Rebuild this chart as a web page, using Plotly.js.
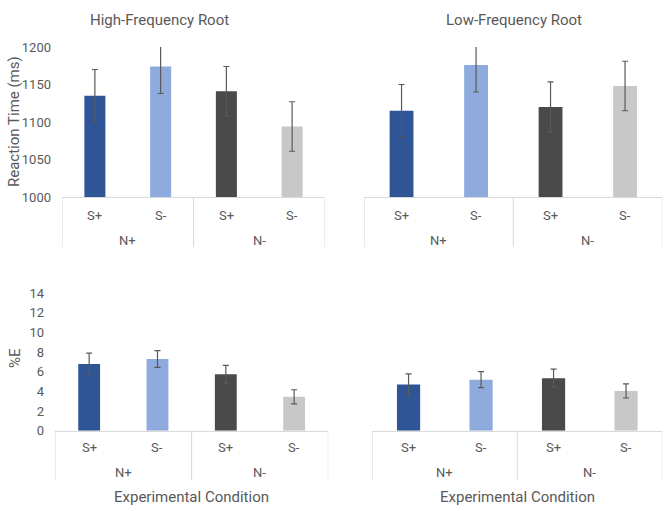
<!DOCTYPE html>
<html>
<head>
<meta charset="utf-8">
<script src="https://cdn.plot.ly/plotly-3.0.1.min.js"></script>
<style>html,body{margin:0;padding:0;background:#fff;}#chart{width:670px;height:511px;}</style>
</head>
<body>
<div id="chart"></div>
<script>
// ---- data ----
const groupLabels = ["N+", "N+", "N-", "N-"];
const subLabels   = ["S+", "S-", "S+", "S-"];
const panelTitles = ["High-Frequency Root", "Low-Frequency Root"];
const yTitles     = ["Reaction Time (ms)", "%E"];
const xTitle      = "Experimental Condition";

const rtHigh    = [1135, 1174, 1141, 1094];
const rtHighErr = [35, 36, 33, 33];
const rtLow     = [1115, 1176, 1120, 1148];
const rtLowErr  = [35, 36, 33.5, 33];

const errHigh    = [6.8, 7.3, 5.75, 3.45];
const errHighErr = [1.1, 0.85, 0.9, 0.72];
const errLow     = [4.7, 5.2, 5.35, 4.05];
const errLowErr  = [1.08, 0.82, 0.92, 0.72];

// ---- styles ----
const barColors = ["#2F5597", "#8FAADC", "#4A4A4A", "#C8C8C8"];
const FONT = "Roboto, 'Liberation Sans', Arial, sans-serif";
const TXT = "#595959";
const LINE = "#D9D9D9";

const W = 670, H = 511;
const catKeys = groupLabels.map((g, i) => g + "|" + subLabels[i]);

function barTrace(y, e, xa, ya) {
  return {
    type: "bar",
    x: catKeys,
    y: y,
    xaxis: xa, yaxis: ya,
    width: 0.32,
    marker: {color: barColors},
    error_y: {type: "data", array: e, visible: true, color: "#595959", thickness: 1.2, width: 3},
    hoverinfo: "skip",
    showlegend: false
  };
}

const data = [
  barTrace(rtHigh, rtHighErr, "x", "y"),
  barTrace(rtLow, rtLowErr, "x2", "y2"),
  barTrace(errHigh, errHighErr, "x3", "y3"),
  barTrace(errLow, errLowErr, "x4", "y4")
];

function xax(domain, anchor) {
  return {
    domain: domain, anchor: anchor, type: "category",
    categoryorder: "array", categoryarray: catKeys,
    range: [-0.5, catKeys.length - 0.5],
    showline: true, linecolor: LINE, linewidth: 1,
    showgrid: false, zeroline: false, ticks: "", showticklabels: false,
    fixedrange: true
  };
}
function yax(domain, anchor, range, dtick, showLabels) {
  return {
    domain: domain, anchor: anchor, range: range, dtick: dtick,
    showgrid: false, zeroline: false, showline: false, ticks: "",
    showticklabels: showLabels, ticklabelstandoff: 10,
    tickfont: {family: FONT, size: 13, color: TXT},
    fixedrange: true
  };
}

// panel geometry (pixels)
const panels = [
  {xa: "x",  xl: 62,    xr: 325,   axisY: 197,   topY: 47,    subY: 215,   grpY: 240,   divBot: 247},
  {xa: "x2", xl: 364.3, xr: 662.3, axisY: 197,   topY: 47,    subY: 215,   grpY: 240,   divBot: 247},
  {xa: "x3", xl: 55,    xr: 328.3, axisY: 430.7, topY: 293.3, subY: 447,   grpY: 472.7, divBot: 480},
  {xa: "x4", xl: 372.3, xr: 662.3, axisY: 430.7, topY: 293.3, subY: 447,   grpY: 472.7, divBot: 480}
];

const annotations = [];
const shapes = [];
panels.forEach(p => {
  // sub-level labels
  subLabels.forEach((s, i) => {
    annotations.push({text: s, xref: p.xa, yref: "paper", x: i, y: 1 - p.subY / H,
      showarrow: false, xanchor: "center", yanchor: "middle",
      font: {family: FONT, size: 13, color: TXT}});
  });
  // group labels and dividers
  const groups = [];
  groupLabels.forEach((g, i) => {
    if (!groups.length || groups[groups.length - 1].name !== g) groups.push({name: g, start: i, end: i});
    else groups[groups.length - 1].end = i;
  });
  groups.forEach((g, gi) => {
    annotations.push({text: g.name, xref: p.xa, yref: "paper", x: (g.start + g.end) / 2, y: 1 - p.grpY / H,
      showarrow: false, xanchor: "center", yanchor: "middle",
      font: {family: FONT, size: 13, color: TXT}});
    const edges = gi === 0 ? [g.start - 0.5, g.end + 0.5] : [g.end + 0.5];
    edges.forEach(xe => shapes.push({type: "line", xref: p.xa, yref: "paper",
      x0: xe, x1: xe, y0: 1 - p.axisY / H, y1: 1 - p.divBot / H,
      line: {color: LINE, width: 1}}));
  });
});

annotations.push(
  {text: panelTitles[0], xref: "paper", yref: "paper", x: 159/W, y: 1 - 20/H, showarrow: false, xanchor: "center", yanchor: "middle", font: {family: FONT, size: 15, color: TXT}},
  {text: panelTitles[1], xref: "paper", yref: "paper", x: 514/W, y: 1 - 20/H, showarrow: false, xanchor: "center", yanchor: "middle", font: {family: FONT, size: 15, color: TXT}},
  {text: yTitles[0], xref: "paper", yref: "paper", x: 14/W, y: 1 - 122/H, showarrow: false, textangle: -90, xanchor: "center", yanchor: "middle", font: {family: FONT, size: 15, color: TXT}},
  {text: yTitles[1], xref: "paper", yref: "paper", x: 15/W, y: 1 - 358/H, showarrow: false, textangle: -90, xanchor: "center", yanchor: "middle", font: {family: FONT, size: 15, color: TXT}},
  {text: xTitle, xref: "paper", yref: "paper", x: 191.7/W, y: 1 - 497/H, showarrow: false, xanchor: "center", yanchor: "middle", font: {family: FONT, size: 15, color: TXT}},
  {text: xTitle, xref: "paper", yref: "paper", x: 517/W, y: 1 - 497/H, showarrow: false, xanchor: "center", yanchor: "middle", font: {family: FONT, size: 15, color: TXT}}
);

const topDom = [1 - 197/H, 1 - 47/H];
const botDom = [1 - 430.7/H, 1 - 293.3/H];

const layout = {
  width: W, height: H,
  margin: {l: 0, r: 0, t: 0, b: 0},
  paper_bgcolor: "#fff", plot_bgcolor: "#fff",
  font: {family: FONT, color: TXT},
  xaxis:  xax([62/W, 325/W], "y"),
  yaxis:  yax(topDom, "x", [1000, 1200], 50, true),
  xaxis2: xax([364.3/W, 662.3/W], "y2"),
  yaxis2: yax(topDom, "x2", [1000, 1200], 50, false),
  xaxis3: xax([55/W, 328.3/W], "y3"),
  yaxis3: yax(botDom, "x3", [0, 14], 2, true),
  xaxis4: xax([372.3/W, 662.3/W], "y4"),
  yaxis4: yax(botDom, "x4", [0, 14], 2, false),
  annotations: annotations,
  shapes: shapes
};

Plotly.newPlot("chart", data, layout, {staticPlot: true, displayModeBar: false});
</script>
</body>
</html>
